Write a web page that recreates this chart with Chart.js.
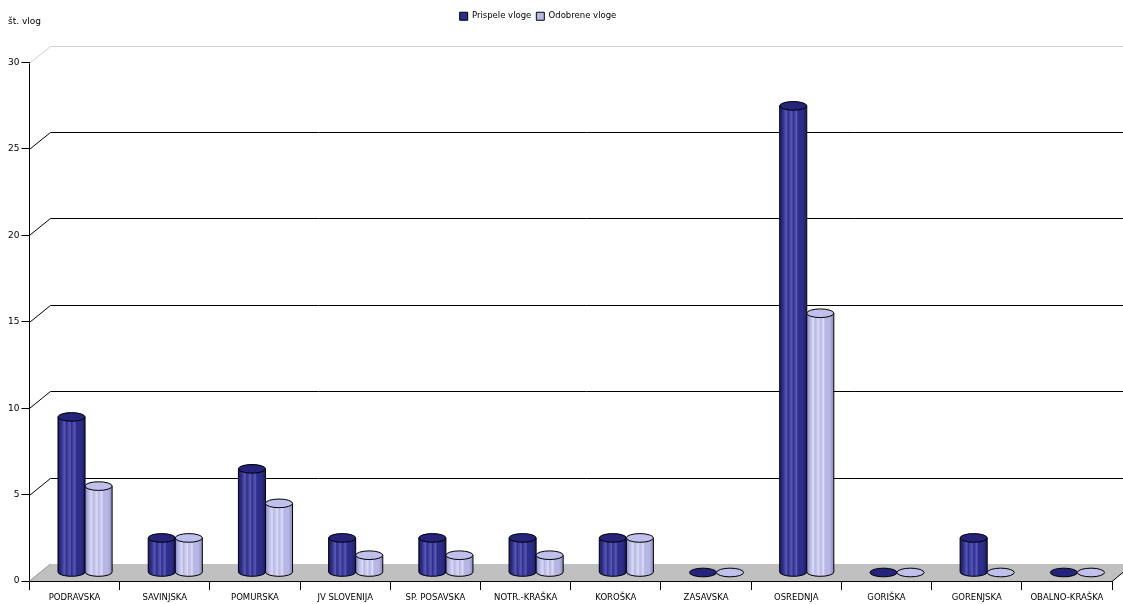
<!DOCTYPE html>
<html>
<head>
<meta charset="utf-8">
<script src="https://cdn.jsdelivr.net/npm/chart.js@4/dist/chart.umd.min.js"></script>
<style>
  html, body { margin: 0; padding: 0; background: #fff; }
  #wrap { width: 1123px; height: 604px; }
</style>
</head>
<body>
<div id="wrap"><canvas id="regije-chart"></canvas></div>
<script>
const regije = ['PODRAVSKA', 'SAVINJSKA', 'POMURSKA', 'JV SLOVENIJA', 'SP. POSAVSKA', 'NOTR.-KRAŠKA',
    'KOROŠKA', 'ZASAVSKA', 'OSREDNJA', 'GORIŠKA', 'GORENJSKA', 'OBALNO-KRAŠKA'];
const prispele = [9, 2, 6, 2, 2, 2, 2, 0, 27, 0, 2, 0];
const odobrene = [5, 2, 4, 1, 1, 1, 2, 0, 15, 0, 0, 0];
const yMin = 0, yMax = 30, yStep = 5;

// globina 3D ozadja
const DX = 21, DY = -17;
const FONT = 'DejaVu Sans';

const SERIES_STYLE = [
    { base: '#2d2d8c', stripe: '#5a5ab4', dark: '#1c1c5e', top: '#24247a' },
    { base: '#b6b6e4', stripe: '#dcdcf6', dark: '#8a8ac0', top: '#c0c0ec' }
];

function drawCylinder(ctx, cx, yTop, yBase, w, st) {
    const l = cx - w / 2, r = cx + w / 2, ry = w * 0.16;
    if (yBase - yTop > 0.5) {
        const g = ctx.createLinearGradient(l, 0, r, 0);
        g.addColorStop(0, st.dark);
        g.addColorStop(0.12, st.base);
        g.addColorStop(0.25, st.stripe);
        g.addColorStop(0.3, st.base);
        g.addColorStop(0.45, st.stripe);
        g.addColorStop(0.5, st.base);
        g.addColorStop(0.62, st.stripe);
        g.addColorStop(0.68, st.base);
        g.addColorStop(0.85, st.base);
        g.addColorStop(1, st.dark);
        ctx.beginPath();
        ctx.moveTo(l, yTop);
        ctx.lineTo(l, yBase);
        ctx.ellipse(cx, yBase, w / 2, ry, 0, Math.PI, 0, true);
        ctx.lineTo(r, yTop);
        ctx.closePath();
        ctx.fillStyle = g;
        ctx.fill();
        ctx.lineWidth = 1;
        ctx.strokeStyle = '#000';
        ctx.stroke();
    }
    ctx.beginPath();
    ctx.ellipse(cx, yTop, w / 2, ry, 0, 0, Math.PI * 2);
    ctx.fillStyle = st.top;
    ctx.fill();
    ctx.lineWidth = 1;
    ctx.strokeStyle = '#000';
    ctx.stroke();
}

// dodaten prostor pod legendo, legenda malo levo
const legendSpace = {
    id: 'legendSpace',
    beforeInit(chart) {
        const fit = chart.legend.fit;
        chart.legend.fit = function () {
            fit.call(this);
            this.height += 32;
        };
    },
    afterLayout(chart) {
        chart.legend.left -= 21;
        chart.legend.right -= 21;
    }
};

const plot3d = {
    id: 'plot3d',
    beforeDatasetsDraw(chart) {
        const { ctx, chartArea: a, scales: { y } } = chart;
        const W = chart.width;
        const y0 = y.getPixelForValue(0);
        ctx.save();
        // tla
        ctx.beginPath();
        ctx.moveTo(a.left, y0);
        ctx.lineTo(a.left + DX, y0 + DY);
        ctx.lineTo(W, y0 + DY);
        ctx.lineTo(W, y0 + DY * (1 - (W - a.right) / DX));
        ctx.lineTo(a.right, y0);
        ctx.closePath();
        ctx.fillStyle = '#c0c0c0';
        ctx.fill();
        ctx.beginPath();
        ctx.moveTo(a.left, y0);
        ctx.lineTo(a.left + DX, y0 + DY);
        ctx.strokeStyle = '#999';
        ctx.stroke();
        ctx.beginPath();
        ctx.moveTo(a.right, y0 + 0.5);
        ctx.lineTo(a.right + DX, y0 + DY);
        ctx.strokeStyle = '#000';
        ctx.stroke();
        // mreža na zadnji steni
        for (let v = yMin + yStep; v <= yMax; v += yStep) {
            const py = Math.round(y.getPixelForValue(v)) + 0.5;
            ctx.beginPath();
            ctx.moveTo(a.left, py);
            ctx.lineTo(a.left + DX, py + DY);
            ctx.lineTo(W, py + DY);
            ctx.strokeStyle = v === yMax ? '#cfcfcf' : '#000';
            ctx.lineWidth = 1;
            ctx.stroke();
        }
        // valji
        chart.data.datasets.forEach((ds, di) => {
            const meta = chart.getDatasetMeta(di);
            meta.data.forEach(el => {
                drawCylinder(ctx, el.x + DX / 2, el.y + DY / 2, el.base + DY / 2, el.width, SERIES_STYLE[di]);
            });
        });
        // naslov osi
        ctx.fillStyle = '#000';
        ctx.font = `9px "${FONT}"`;
        ctx.textBaseline = 'middle';
        ctx.fillText('št. vlog', 8, 22);
        ctx.restore();
        return false;
    }
};

new Chart(document.getElementById('regije-chart'), {
    type: 'bar',
    data: {
        labels: regije,
        datasets: [
            { label: 'Prispele vloge', data: prispele, backgroundColor: SERIES_STYLE[0].base, borderColor: '#000', borderWidth: 1 },
            { label: 'Odobrene vloge', data: odobrene, backgroundColor: SERIES_STYLE[1].base, borderColor: '#000', borderWidth: 1 }
        ]
    },
    options: {
        responsive: true,
        maintainAspectRatio: false,
        animation: false,
        categoryPercentage: 0.6,
        barPercentage: 1.0,
        layout: { padding: { top: 7, left: 6, right: 11, bottom: 0 } },
        plugins: {
            legend: {
                position: 'top',
                labels: { boxWidth: 8, boxHeight: 8, padding: 5, color: '#000', font: { family: FONT, size: 8.5 } }
            },
            tooltip: { enabled: false }
        },
        scales: {
            x: {
                afterFit(scale) { scale.height = 23; },
                grid: { offset: true, drawOnChartArea: false, drawTicks: true, tickLength: 9, color: '#000' },
                border: { display: true, color: '#000' },
                ticks: { color: '#000', padding: 3, maxRotation: 0, autoSkip: false, font: { family: FONT, size: 8.5 } }
            },
            y: {
                min: yMin, max: yMax,
                grid: { drawOnChartArea: false, drawTicks: true, tickLength: 8, color: '#000' },
                border: { display: true, color: '#000' },
                ticks: { stepSize: yStep, color: '#000', padding: 2, font: { family: FONT, size: 9 } }
            }
        }
    },
    plugins: [legendSpace, plot3d]
});
</script>
</body>
</html>
